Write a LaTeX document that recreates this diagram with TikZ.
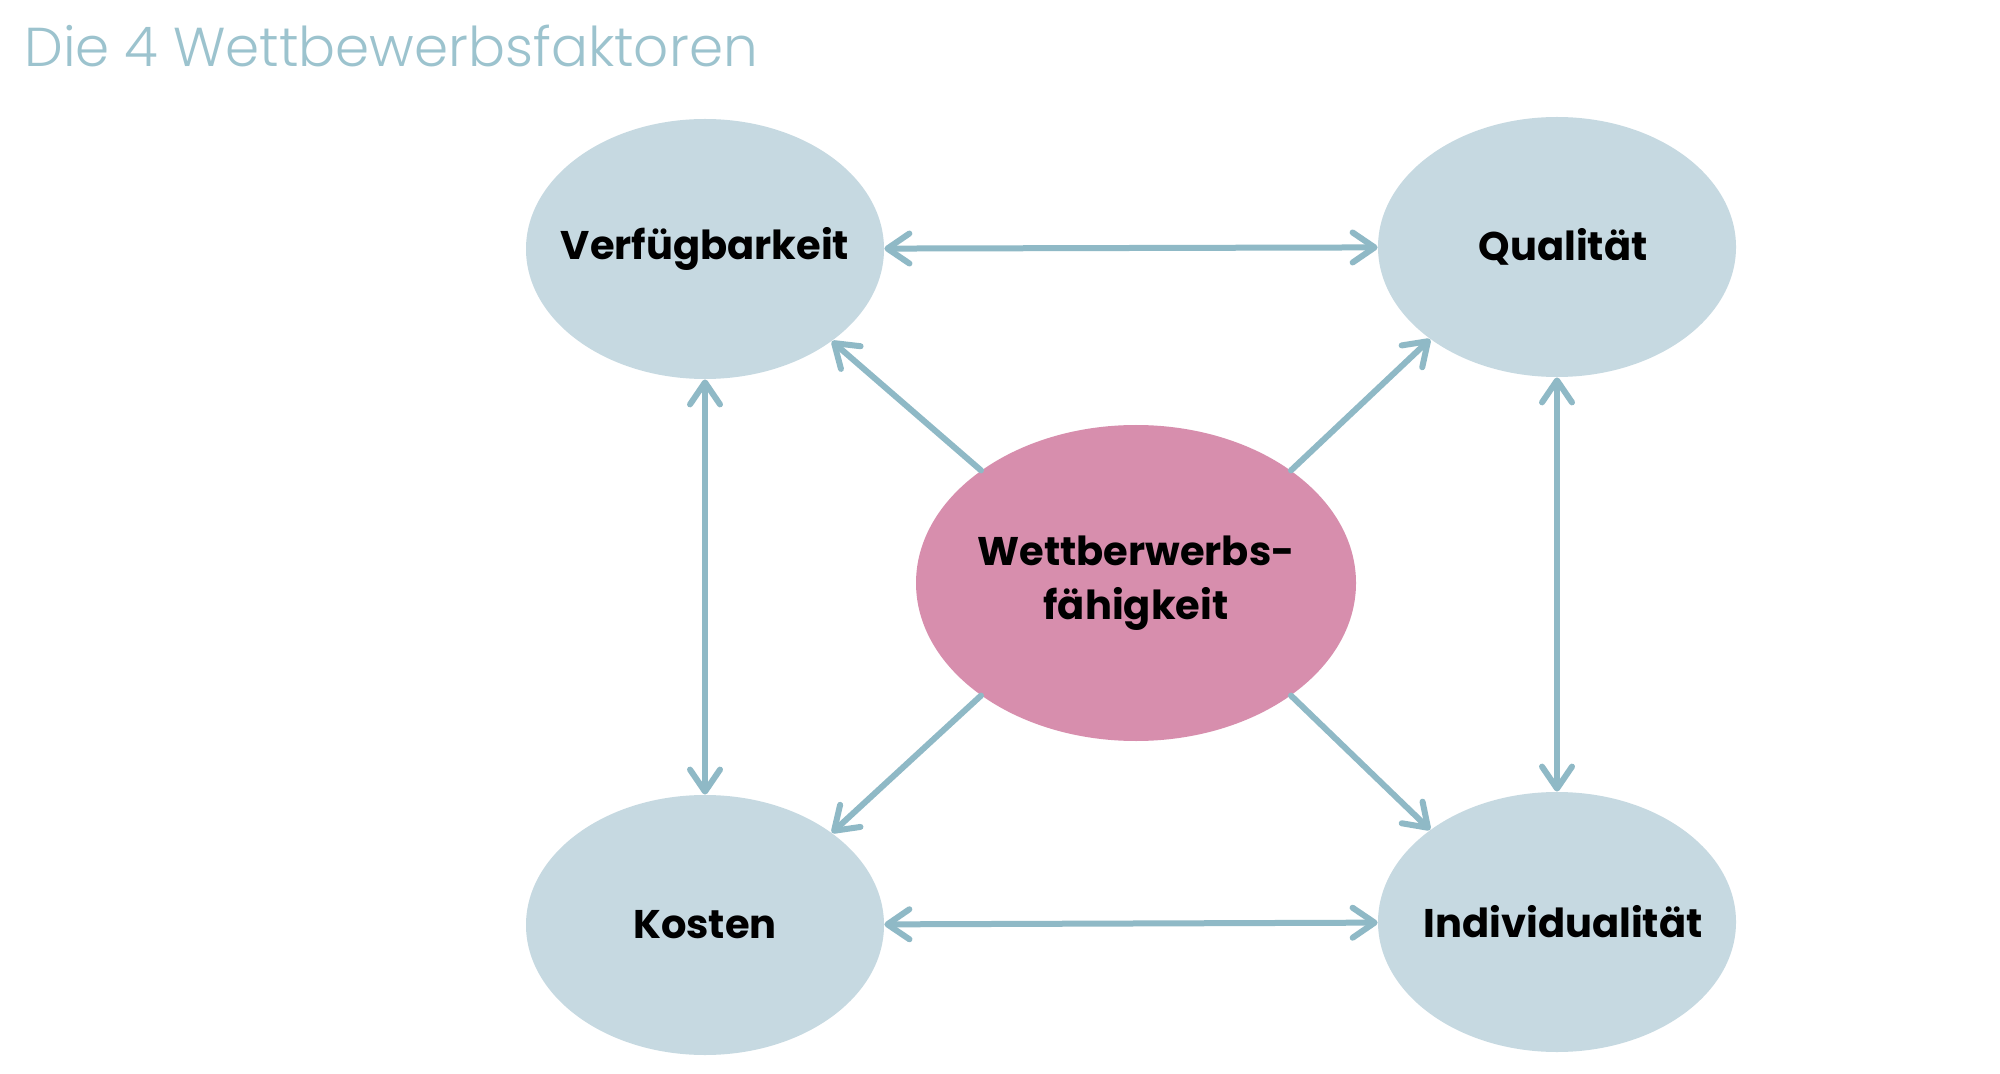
\documentclass[tikz,border=0pt]{standalone}
\usepackage{fontspec}
\setmainfont{Poppins}
\newfontfamily\titlefont{Poppins Light}
\usetikzlibrary{shapes.geometric,arrows.meta}
\definecolor{titlecol}{HTML}{9CC3CE}
\definecolor{bluefill}{HTML}{C6D9E1}
\definecolor{pinkfill}{HTML}{D78EAD}
\definecolor{arrowcol}{HTML}{8FB9C6}
\newcommand{\zb}[1]{\makebox[0pt]{#1}}
\tikzset{
  factor/.style={ellipse, fill=bluefill, minimum width=179pt, minimum height=130pt, inner sep=0pt,
    font=\fontsize{20}{24}\selectfont\bfseries, text=black},
  core/.style={ellipse, fill=pinkfill, minimum width=220pt, minimum height=158pt, inner sep=0pt,
    font=\fontsize{20}{27}\selectfont\bfseries, text=black, align=center},
  link/.style={draw=arrowcol, line width=3pt, line cap=round,
    arrows={-{Straight Barb[length=11pt,width=15pt,round]}}},
  twolink/.style={draw=arrowcol, line width=3pt, line cap=round,
    arrows={{Straight Barb[length=11pt,width=15pt,round]}-{Straight Barb[length=11pt,width=15pt,round]}}}
}
\begin{document}
\begin{tikzpicture}[x=0.5pt,y=-0.5pt]
\useasboundingbox (0,0) rectangle (2000,1074);
\fill[white] (0,0) rectangle (2000,1074);
\node[anchor=base west, inner sep=0pt, text=titlecol, font=\titlefont\fontsize{27.4}{32}\selectfont] (title) at (24,67) {Die 4 Wettbewerbsfaktoren};
\node[factor] (verf) at (705,249) {\zb{Verfügbarkeit}};
\node[factor] (qual) at (1557,247) {\zb{\hspace*{6pt}Qualität}};
\node[factor] (kost) at (705,925) {\zb{Kosten}};
\node[factor] (indiv) at (1557,922) {\zb{\hspace*{6pt}Individualität}};
\node[core] (core) at (1136,583) {\zb{Wettberwerbs-}\\\zb{fähigkeit}};
\draw[twolink] (verf) -- (qual);
\draw[twolink] (kost) -- (indiv);
\draw[twolink] (verf) -- (kost);
\draw[twolink] (qual) -- (indiv);
\draw[link] (core.144) -- (verf.324);
\draw[link] (core.36) -- (qual.216);
\draw[link] (core.216) -- (kost.36);
\draw[link] (core.324) -- (indiv.144);
\end{tikzpicture}
\end{document}
